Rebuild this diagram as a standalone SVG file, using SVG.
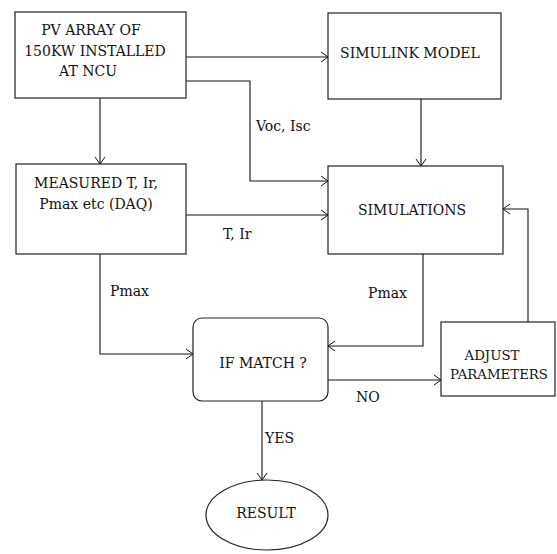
<svg xmlns="http://www.w3.org/2000/svg" width="557" height="554" viewBox="0 0 557 554">
<defs>
<style>
.box{fill:#fff;stroke:#222;stroke-width:1.2}
.ln{fill:none;stroke:#111;stroke-width:1.1}
.t{font-size:14px;fill:#111}
.c{text-anchor:middle}
.s{font-size:13.3px}
</style>
<marker id="ah" markerWidth="10" markerHeight="12" refX="9" refY="6" orient="auto" markerUnits="userSpaceOnUse">
<path d="M2,1 L9,6 L2,11" fill="none" stroke="#111" stroke-width="1"/>
</marker>
</defs>
<rect width="557" height="554" fill="#fff"/>
<g font-family="DejaVu Serif">
<g id="connectors">
<path class="ln" d="M186,57 H328" marker-end="url(#ah)"/>
<path class="ln" d="M186,81 H250 V181 H328" marker-end="url(#ah)"/>
<path class="ln" d="M100,98 V164" marker-end="url(#ah)"/>
<path class="ln" d="M421,99 V166" marker-end="url(#ah)"/>
<path class="ln" d="M186,215 H328" marker-end="url(#ah)"/>
<path class="ln" d="M528,322 V209 H503" marker-end="url(#ah)"/>
<path class="ln" d="M423,254 V346 H328" marker-end="url(#ah)"/>
<path class="ln" d="M100,254 V354 H193" marker-end="url(#ah)"/>
<path class="ln" d="M328,380 H441" marker-end="url(#ah)"/>
<path class="ln" d="M262,401 V480" marker-end="url(#ah)"/>
<text class="t" x="256" y="131">Voc, Isc</text>
<text class="t" x="223" y="239">T, Ir</text>
<text class="t" x="110" y="296">Pmax</text>
<text class="t" x="368" y="298">Pmax</text>
<text class="t" x="356" y="402">NO</text>
<text class="t" x="265" y="443">YES</text>
</g>
<g id="pv">
<rect class="box" x="15" y="12" width="171" height="86"/>
<text class="t c" x="91" y="35">PV ARRAY OF</text>
<text class="t c" x="95" y="56">150KW INSTALLED</text>
<text class="t c" x="88" y="76">AT NCU</text>
</g>
<g id="simulink">
<rect class="box" x="328" y="13" width="173" height="86"/>
<text class="t c" x="410" y="58">SIMULINK MODEL</text>
</g>
<g id="measured">
<rect class="box" x="16" y="164" width="170" height="90"/>
<text class="t c" x="96" y="188">MEASURED T, Ir,</text>
<text class="t c" x="96" y="209">Pmax etc (DAQ)</text>
</g>
<g id="simulations">
<rect class="box" x="328" y="166" width="175" height="88"/>
<text class="t c" x="412" y="215">SIMULATIONS</text>
</g>
<g id="ifmatch">
<rect class="box" x="193" y="318" width="135" height="83" rx="9"/>
<text class="t c" x="263" y="368">IF MATCH ?</text>
</g>
<g id="adjust">
<rect class="box" x="441" y="322" width="114" height="74"/>
<text class="t c s" x="492" y="360">ADJUST</text>
<text class="t c s" x="499" y="379">PARAMETERS</text>
</g>
<g id="result">
<ellipse class="box" cx="267" cy="515" rx="61" ry="35"/>
<text class="t c" x="266" y="518">RESULT</text>
</g>
</g>
</svg>
